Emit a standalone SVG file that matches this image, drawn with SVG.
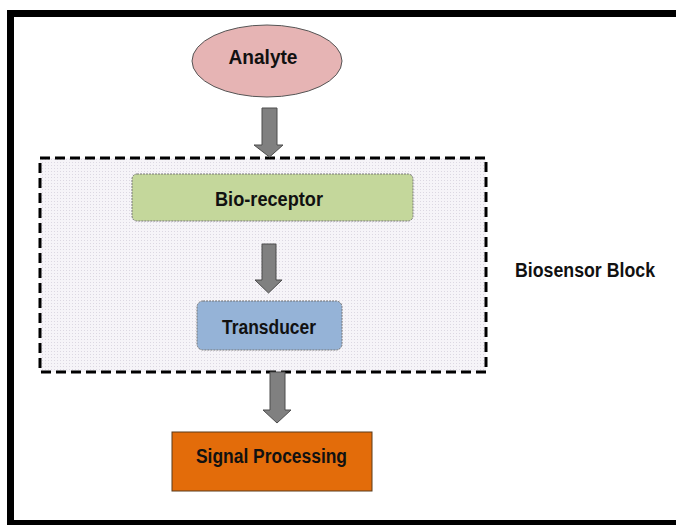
<svg xmlns="http://www.w3.org/2000/svg" width="676" height="525" viewBox="0 0 676 525">
<style>
text{font-family:"Liberation Sans",Arial,sans-serif;font-weight:bold;font-size:20px;fill:#111;text-anchor:middle}
.arrow{fill:#808080;stroke:#4d4d4d;stroke-width:1}
</style>
<defs>
<pattern id="dots" width="3" height="3" patternUnits="userSpaceOnUse">
<rect width="3" height="3" fill="#f6f4f8"/>
<rect width="1" height="1" fill="#dcd8e2"/>
</pattern>
</defs>
<rect x="0" y="0" width="676" height="525" fill="#fff"/>
<rect x="10.5" y="13.5" width="700" height="510" fill="#fff" stroke="#000" stroke-width="7"/>
<g id="biosensor-block">
<rect x="40" y="158" width="446" height="214" fill="url(#dots)" stroke="#000" stroke-width="3" stroke-dasharray="10,5"/>
<text x="585" y="277" textLength="140" lengthAdjust="spacingAndGlyphs">Biosensor Block</text>
</g>
<g id="connectors">
<polygon class="arrow" points="262,108 277,108 277,145 283,145 269.5,157 254,145 262,145"/>
<polygon class="arrow" points="262,244 276,244 276,280 282,280 268.5,293 255,280 262,280"/>
<polygon class="arrow" points="270,372 285,372 285,410 291,410 277,423 263,410 270,410"/>
</g>
<g id="analyte">
<ellipse cx="267" cy="61" rx="75" ry="36" fill="#e6b4b4" stroke="#555" stroke-width="1"/>
<text x="263" y="64" textLength="69" lengthAdjust="spacingAndGlyphs">Analyte</text>
</g>
<g id="bio-receptor">
<rect x="132" y="174" width="281" height="47" rx="5" fill="#c4d79b" stroke="#777" stroke-width="1" stroke-dasharray="2,1"/>
<text x="269" y="206" textLength="108" lengthAdjust="spacingAndGlyphs">Bio-receptor</text>
</g>
<g id="transducer">
<rect x="197" y="301" width="145" height="49" rx="6" fill="#95b3d7" stroke="#777" stroke-width="1" stroke-dasharray="2,1"/>
<text x="269" y="334" textLength="94" lengthAdjust="spacingAndGlyphs">Transducer</text>
</g>
<g id="signal-processing">
<rect x="172" y="432" width="200" height="59" fill="#e36c0a" stroke="#5a3a1a" stroke-width="1"/>
<text x="271.5" y="463" textLength="151" lengthAdjust="spacingAndGlyphs">Signal Processing</text>
</g>
</svg>
